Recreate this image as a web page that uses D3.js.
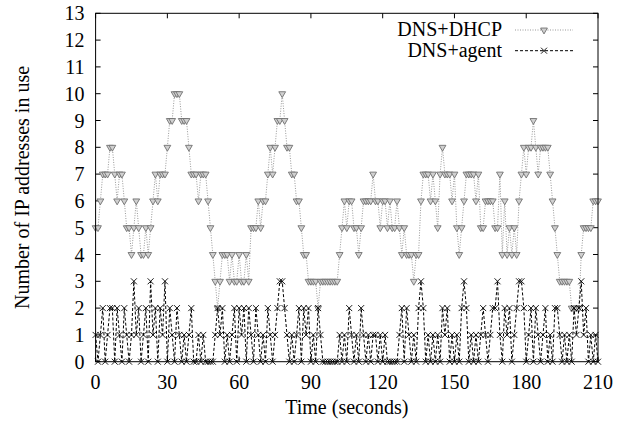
<!DOCTYPE html>
<html>
<head>
<meta charset="utf-8">
<script src="https://cdn.jsdelivr.net/npm/d3@7"></script>
<style>
  body { margin: 0; background: #fff; }
</style>
</head>
<body>
<div id="vis"></div>
<script>
// one sample per second, t = index
var dhcp = [5,5,6,7,7,7,8,8,7,6, 7,7,6,5,5,4,5,6,5,4,
            4,5,4,5,6,7,6,7,7,7, 8,9,9,10,10,10,9,9,9,8,
            7,7,7,6,7,7,7,6,5,4, 3,2,3,4,4,4,3,4,3,3,
            4,3,3,4,3,5,5,5,6,5, 6,6,7,8,7,8,9,9,10,9,
            8,8,7,7,6,6,5,4,4,3, 3,3,3,2,3,3,3,3,3,3,
            3,3,4,5,6,5,6,6,5,5, 4,5,6,6,6,6,7,6,6,5,
            6,6,5,6,5,5,6,5,4,5, 4,4,4,3,4,4,6,7,7,7,
            6,7,6,5,7,8,7,7,7,6, 7,5,4,5,6,7,7,7,7,6,
            7,5,5,6,6,6,6,5,5,7, 4,6,4,5,4,5,4,6,7,8,
            7,8,8,9,8,7,8,8,8,8, 7,6,5,4,3,3,3,3,3,2,
            2,2,2,4,5,5,5,5,6,6, 6];
var agent = [1,0,1,2,0,1,2,2,0,2, 1,0,2,1,0,1,3,1,2,0,
             1,2,0,3,1,2,0,2,1,3, 0,2,1,0,2,1,0,1,0,1,
             2,0,0,1,0,1,0,0,0,0, 1,2,1,2,0,1,0,1,2,0,
             2,1,2,0,2,1,0,2,1,0, 1,0,2,1,0,1,2,3,3,2,
             1,0,1,0,1,2,0,2,1,2, 0,1,0,2,1,0,0,0,0,0,
             0,0,1,0,1,0,2,1,0,1, 0,2,1,0,1,0,1,1,0,1,
             0,1,0,0,0,0,0,1,2,0, 2,1,0,1,0,2,3,2,0,1,
             0,1,0,1,0,2,1,2,0,1, 0,1,0,2,3,2,0,1,0,1,
             0,1,2,1,0,1,2,2,3,1, 0,2,1,2,0,1,2,3,3,2,
             0,1,2,0,2,1,0,1,2,0, 1,0,2,2,1,0,1,0,1,0,
             2,1,2,3,1,2,0,1,0,1, 0];
var xTicks = [0, 30, 60, 90, 120, 150, 180, 210];
var yTicks = [0,1,2,3,4,5,6,7,8,9,10,11,12,13];
var seriesNames = ["DNS+DHCP", "DNS+agent"];

var svgW = 629, svgH = 426;
var pL = 95.6, pR = 598, pT = 13.3, pB = 361.7;

var svg = d3.select('#vis').append('svg').attr('width', svgW).attr('height', svgH)
  .attr('font-family', "'Liberation Serif', 'Times New Roman', Times, 'DejaVu Serif', serif")
  .attr('font-size', 20);

var x = d3.scaleLinear().domain([0, 210]).range([pL, pR]);
var y = d3.scaleLinear().domain([0, 13]).range([pB, pT]);

//ticks on all four sides, pointing inwards
var tk = 5;
var g = svg.append('g');
g.selectAll('.xt').data(xTicks).enter().append('path').attr('class', 'xt')
  .attr('d', function(d){ var p = x(d); return 'M' + p + ',' + pB + 'v' + (-tk) + 'M' + p + ',' + pT + 'v' + tk; })
  .attr('stroke', '#000').attr('stroke-width', 1);
g.selectAll('.yt').data(yTicks).enter().append('path').attr('class', 'yt')
  .attr('d', function(d){ var p = y(d); return 'M' + pL + ',' + p + 'h' + tk + 'M' + pR + ',' + p + 'h' + (-tk); })
  .attr('stroke', '#000').attr('stroke-width', 1);

//tick labels
g.selectAll('.xl').data(xTicks).enter().append('text').attr('class', 'xl')
  .attr('x', function(d){ return x(d); }).attr('y', pB + 27)
  .attr('text-anchor', 'middle').text(String);
g.selectAll('.yl').data(yTicks).enter().append('text').attr('class', 'yl')
  .attr('x', pL - 11).attr('y', function(d){ return y(d) + 7; })
  .attr('text-anchor', 'end').text(String);

//axis titles
svg.append('text').attr('x', (pL + pR) / 2).attr('y', 414).attr('text-anchor', 'middle').text('Time (seconds)');
svg.append('text').attr('transform', 'translate(29,' + ((pT + pB) / 2) + ') rotate(-90)')
  .attr('text-anchor', 'middle').text('Number of IP addresses in use');

var line = d3.line().x(function(d, i){ return x(i); }).y(function(d){ return y(d); });
var tri = d3.symbol().type(d3.symbolTriangle).size(20);
var cross = function(s){ return 'M' + (-s) + ',' + (-s) + 'L' + s + ',' + s + 'M' + (-s) + ',' + s + 'L' + s + ',' + (-s); };

//DNS+DHCP
svg.append('path').datum(dhcp).attr('d', line)
  .attr('fill', 'none').attr('stroke', '#999').attr('stroke-width', 1).attr('stroke-dasharray', '1,1.5');
svg.selectAll('.tri').data(dhcp).enter().append('path').attr('class', 'tri')
  .attr('d', tri)
  .attr('transform', function(d, i){ return 'translate(' + x(i) + ',' + y(d) + ') rotate(180)'; })
  .attr('fill', '#d0d0d0').attr('stroke', '#707070').attr('stroke-width', 0.9);

//DNS+agent
svg.append('path').datum(agent).attr('d', line)
  .attr('fill', 'none').attr('stroke', '#000').attr('stroke-width', 1).attr('stroke-dasharray', '3,2');
svg.selectAll('.crs').data(agent).enter().append('path').attr('class', 'crs')
  .attr('d', cross(3))
  .attr('transform', function(d, i){ return 'translate(' + x(i) + ',' + y(d) + ')'; })
  .attr('fill', 'none').attr('stroke', '#000').attr('stroke-width', 0.9);

//border
svg.append('rect').attr('x', pL).attr('y', pT).attr('width', pR - pL).attr('height', pB - pT)
  .attr('fill', 'none').attr('stroke', '#000').attr('stroke-width', 1);

//legend
var leg = svg.append('g');
var legY = [30, 50.7];
leg.selectAll('.lt').data(seriesNames).enter().append('text').attr('class', 'lt')
  .attr('x', 502).attr('y', function(d, i){ return legY[i] + 6; }).attr('text-anchor', 'end').text(String);
leg.append('line').attr('x1', 515).attr('x2', 573).attr('y1', legY[0]).attr('y2', legY[0])
  .attr('stroke', '#999').attr('stroke-dasharray', '1,1.5');
leg.append('path').attr('d', tri).attr('transform', 'translate(544,' + legY[0] + ') rotate(180)')
  .attr('fill', '#d0d0d0').attr('stroke', '#707070').attr('stroke-width', 0.9);
leg.append('line').attr('x1', 515).attr('x2', 573).attr('y1', legY[1]).attr('y2', legY[1])
  .attr('stroke', '#000').attr('stroke-dasharray', '3,2');
leg.append('path').attr('d', cross(3)).attr('transform', 'translate(544,' + legY[1] + ')')
  .attr('fill', 'none').attr('stroke', '#000').attr('stroke-width', 0.9);
</script>
</body>
</html>
